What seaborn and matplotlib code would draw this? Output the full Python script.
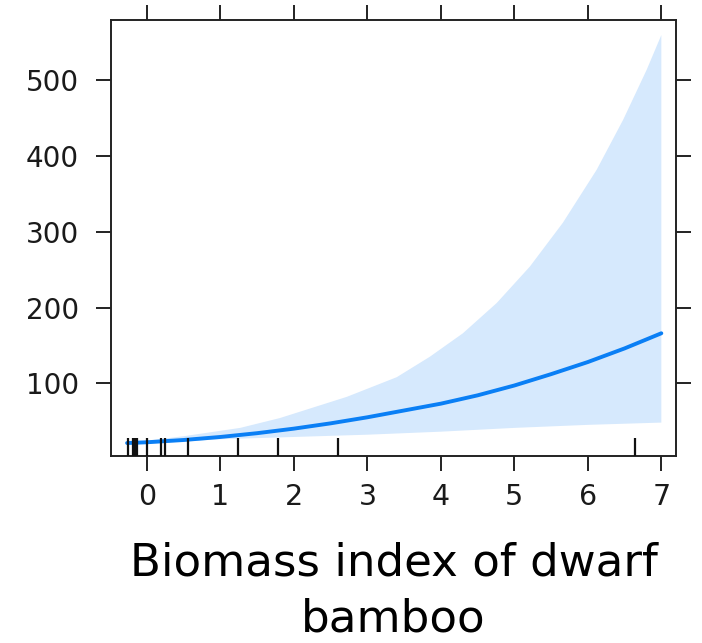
import matplotlib
matplotlib.use("Agg")
import matplotlib.pyplot as plt
import seaborn as sns
import numpy as np
import pandas as pd

# ---- data ----
fit_x = [-0.27, 0.0, 0.5, 1.0, 1.5, 2.0, 2.5, 3.0, 3.5, 4.0, 4.5, 5.0, 5.5, 6.0, 6.5, 7.0]
fit_vals = [21, 22, 25, 29, 34, 40, 47, 55, 64, 73, 84, 97, 112, 128, 146, 166]
upper_x = [-0.27, 0.0, 0.5, 1.27, 1.81, 2.72, 3.40, 3.85, 4.30, 4.76, 5.21, 5.66, 6.12, 6.48, 6.80, 7.0]
upper_vals = [22, 24, 30, 41, 54, 82, 108, 135, 166, 206, 254, 312, 382, 448, 514, 560]
lower_x = [-0.27, 0.0, 0.5, 1.0, 1.5, 2.0, 3.0, 4.0, 5.0, 6.0, 7.0]
lower_vals = [19, 20, 23, 26, 27.5, 29, 32, 36, 41, 45, 48]
rug_x = [-0.26, -0.19, -0.17, -0.15, -0.13, 0.0, 0.19, 0.245, 0.56, 1.24, 1.78, 2.6, 6.64]
x_ticks = [0, 1, 2, 3, 4, 5, 6, 7]
y_ticks = [100, 200, 300, 400, 500]
x_label = "Biomass index of dwarf\nbamboo"

sns.set_theme(style="white")
plt.rcParams['font.family'] = ['DejaVu Sans']

df = pd.DataFrame({"x": fit_x, "fit": fit_vals})

fig = plt.figure(figsize=(7.02, 6.43), dpi=100)
ax = fig.add_axes([0.158, 0.291, 0.805, 0.678])

band_x = list(upper_x) + list(lower_x[::-1])
band_y = list(upper_vals) + list(lower_vals[::-1])
ax.fill(band_x, band_y, color="#d6e9fd", linewidth=0, zorder=1)
sns.lineplot(data=df, x="x", y="fit", color="#0a7ff5", linewidth=2.8, ax=ax, zorder=3)
sns.rugplot(x=rug_x, height=0.041, color="#111111", linewidth=1.6, ax=ax, zorder=4)

ax.set_xlim(-0.49, 7.2)
ax.set_ylim(4, 580)
ax.set_xticks(x_ticks)
ax.set_yticks(y_ticks)
ax.set_xticklabels([str(t) for t in x_ticks])
ax.set_yticklabels([str(t) for t in y_ticks])

for s in ax.spines.values():
    s.set_color("#222222")
    s.set_linewidth(1.4)
    s.set_visible(True)

ax.tick_params(axis="both", which="both", direction="out", length=10.5, width=1.4,
               color="#222222", labelcolor="#1a1a1a",
               top=True, right=True, bottom=True, left=True,
               labeltop=False, labelright=False)
ax.tick_params(axis="x", pad=9, labelsize=20.5)
ax.tick_params(axis="y", pad=12.5, labelsize=20)

ax.set_xlabel(x_label, fontsize=32.5, color="black", linespacing=1.38)
ax.xaxis.set_label_coords(0.5, -0.197)
ax.set_ylabel("")

fig.savefig("out.png", dpi=100)
